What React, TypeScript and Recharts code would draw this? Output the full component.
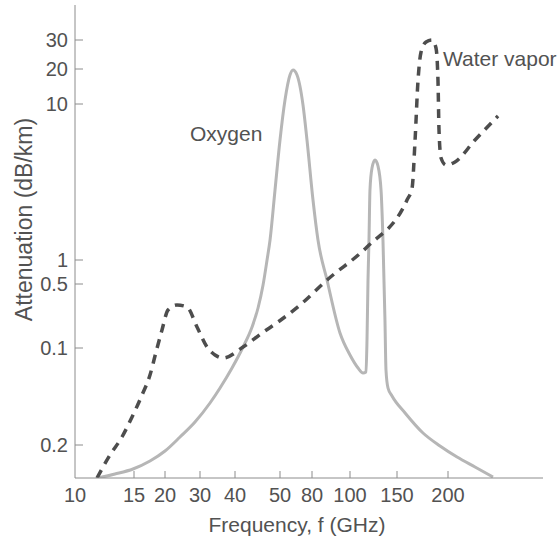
import { LineChart, Line, XAxis, YAxis, ReferenceDot } from 'recharts';

// frequency axis (GHz): printed tick values and where each one sits along the axis
const FREQ_TICKS = [10, 15, 20, 30, 40, 50, 80, 100, 150, 200];
const FREQ_TICK_POS = [0, 59, 90, 125, 160, 205, 237, 275, 322, 373];
const FREQ_AXIS_END = 468;

// attenuation axis (dB/km): the bottom tick is printed as "0.2" in the figure
const ATT_TICKS = [0.01, 0.1, 0.5, 1, 10, 20, 30];
const ATT_TICK_LABELS = ['0.2', '0.1', '0.5', '1', '10', '20', '30'];
const ATT_TICK_POS = [33, 130, 194, 218, 374, 409, 438];
const ATT_AXIS_END = 473;

// oxygen absorption
const OXYGEN_FREQ = [
  11.71, 13.16, 14.9, 17.4, 20.0, 23.8, 28.31, 32.57, 35.37, 39.03, 41.63, 43.53, 44.84, 45.97,
  46.89, 47.59, 48.78, 50.0, 53.81, 57.9, 60.52, 64.2, 70.1, 74.33, 80.47, 82.86, 87.38, 94.29,
  100, 107.2, 111.9, 114.8, 115.8, 116.8, 117.8, 118.8, 120.9, 124.1, 127.3, 130.7, 132.9, 135.2,
  136.4, 138.8, 143.7, 157.0, 173.7, 191.2, 210.5, 232.9, 257.8,
];
const OXYGEN_ATT = [
  0.00457, 0.00502, 0.00566, 0.00684, 0.00867, 0.01209, 0.01726, 0.0271, 0.0387, 0.06219, 0.1025,
  0.1696, 0.2734, 0.4876, 1.0, 1.343, 2.81, 5.877, 10.82, 17.76, 19.61, 17.76, 9.85, 5.877, 2.424,
  1.343, 0.5612, 0.1458, 0.0847, 0.0622, 0.05525, 0.05657, 0.1223, 0.5612, 1.343, 2.81, 3.888,
  4.375, 4.004, 2.81, 1.343, 0.2021, 0.05933, 0.0387, 0.032, 0.02137, 0.01329, 0.00977, 0.00752,
  0.00593, 0.00468,
];

// water vapor absorption
const WATER_FREQ = [
  11.63, 12.72, 13.81, 14.8, 16.16, 17.4, 18.4, 19.45, 20.71, 22.98, 25.8, 28.98, 31.78, 33.94,
  36.25, 41.63, 45.74, 49.52, 67.08, 87.38, 115.8, 158.7, 163.3, 166.1, 168.9, 171.8, 176.7, 182.8,
  186.9, 189.0, 190.1, 192.3, 197.8, 208.1, 232.9, 265.2,
];
const WATER_ATT = [
  0.00457, 0.00789, 0.01209, 0.01943, 0.03277, 0.05267, 0.0909, 0.1573, 0.26, 0.2948, 0.2804,
  0.1696, 0.1025, 0.0847, 0.0788, 0.1025, 0.1458, 0.1923, 0.2948, 0.5612, 1.2115, 2.424, 2.894,
  5.877, 16.08, 25.37, 29.17, 30.0, 26.83, 16.08, 6.81, 4.506, 4.063, 4.248, 5.877, 8.377,
];

const AXIS = '#8c8c8c';
const TEXT = '#525252';
const OXYGEN_COLOR = '#b6b6b6';
const WATER_COLOR = '#4d4d4d';

// piecewise log placement between the printed ticks
function logInterp(v: number, vals: number[], pos: number[]) {
  let i = 0;
  while (i < vals.length - 2 && v > vals[i + 1]) i++;
  const l0 = Math.log10(vals[i]);
  const l1 = Math.log10(vals[i + 1]);
  return pos[i] + ((Math.log10(v) - l0) / (l1 - l0)) * (pos[i + 1] - pos[i]);
}

const freqPos = (f: number) => logInterp(f, FREQ_TICKS, FREQ_TICK_POS);
const attPos = (a: number) => logInterp(a, ATT_TICKS, ATT_TICK_POS);

const toPoints = (freq: number[], att: number[]) =>
  freq.map((f, i) => ({ x: freqPos(f), y: attPos(att[i]) }));

const oxygenData = toPoints(OXYGEN_FREQ, OXYGEN_ATT);
const waterData = toPoints(WATER_FREQ, WATER_ATT);

const xTicks = FREQ_TICKS.map(freqPos);
const yTicks = ATT_TICKS.map(attPos);

function FreqTick({ x, y, payload }: any) {
  const i = xTicks.findIndex((t) => Math.abs(t - payload.value) < 0.01);
  return (
    <g>
      {i > 0 && <line x1={x} y1={y} x2={x} y2={y - 7} stroke={AXIS} strokeWidth={1} />}
      <text x={x} y={y + 24} textAnchor="middle" fill={TEXT} fontSize={20}>
        {FREQ_TICKS[i]}
      </text>
    </g>
  );
}

function AttTick({ x, y, payload }: any) {
  const i = yTicks.findIndex((t) => Math.abs(t - payload.value) < 0.01);
  return (
    <g>
      <line x1={x} y1={y} x2={x + 8} y2={y} stroke={AXIS} strokeWidth={1} />
      <text x={x - 7} y={y + 7} textAnchor="end" fill={TEXT} fontSize={20}>
        {ATT_TICK_LABELS[i]}
      </text>
    </g>
  );
}

export default function App() {
  return (
    <div
      style={{
        position: 'fixed',
        left: 0,
        top: 0,
        width: 560,
        height: 542,
        background: '#fff',
        fontFamily: "'Liberation Sans', Arial, sans-serif",
      }}
    >
      <LineChart width={560} height={542} margin={{ top: 5, right: 17, bottom: 0, left: 0 }}>
        <XAxis
          type="number"
          dataKey="x"
          domain={[0, FREQ_AXIS_END]}
          ticks={xTicks}
          interval={0}
          allowDataOverflow
          height={64}
          tickSize={0}
          tickMargin={0}
          tickLine={false}
          axisLine={{ stroke: AXIS }}
          tick={<FreqTick />}
          label={{ value: 'Frequency, f (GHz)', position: 'center', dx: -12, dy: 15, fill: TEXT, fontSize: 21 }}
        />
        <YAxis
          type="number"
          dataKey="y"
          domain={[0, ATT_AXIS_END]}
          ticks={yTicks}
          interval={0}
          allowDataOverflow
          width={75}
          tickSize={0}
          tickMargin={0}
          tickLine={false}
          axisLine={{ stroke: AXIS }}
          tick={<AttTick />}
          label={{ value: 'Attenuation (dB/km)', angle: -90, position: 'center', dx: -14, dy: -22, fill: TEXT, fontSize: 23 }}
        />
        <Line
          data={oxygenData}
          dataKey="y"
          type="monotone"
          stroke={OXYGEN_COLOR}
          strokeWidth={3}
          dot={false}
          activeDot={false}
          isAnimationActive={false}
        />
        <Line
          data={waterData}
          dataKey="y"
          type="monotone"
          stroke={WATER_COLOR}
          strokeWidth={3.5}
          strokeDasharray="9 7"
          dot={false}
          activeDot={false}
          isAnimationActive={false}
        />
        <ReferenceDot
          x={freqPos(37.2)}
          y={attPos(6.5)}
          r={0}
          fill="none"
          stroke="none"
          label={{ value: 'Oxygen', position: 'center', fill: TEXT, fontSize: 21 }}
        />
        <ReferenceDot
          x={freqPos(189)}
          y={attPos(23.3)}
          r={0}
          fill="none"
          stroke="none"
          label={{ value: 'Water vapor', position: 'right', fill: TEXT, fontSize: 21 }}
        />
      </LineChart>
    </div>
  );
}
